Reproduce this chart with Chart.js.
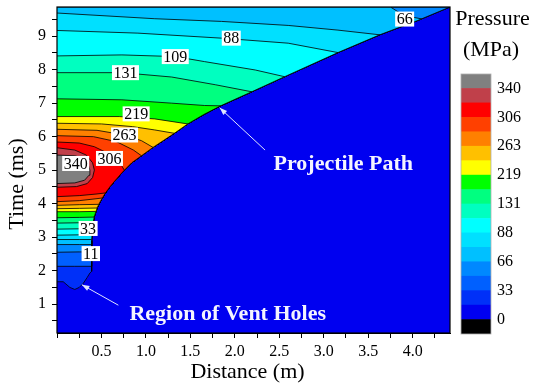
<!DOCTYPE html>
<html>
<head>
<meta charset="utf-8">
<script src="https://cdn.jsdelivr.net/npm/chart.js@4.4.1/dist/chart.umd.min.js"></script>
<style>
  body { margin: 0; background: #fff; }
  #wrap { position: relative; width: 534px; height: 389px; }
  #mainChart { position: absolute; left: 0; top: 0; }
  #barChart { position: absolute; left: 440px; top: 0; }
</style>
</head>
<body>
<div id="wrap">
  <canvas id="mainChart" width="534" height="389"></canvas>
  <canvas id="barChart" width="94" height="389"></canvas>
</div>
<script>
// axis ranges (m, ms)
const xMax = 4.42;
const tMin = 0.14;
const tTop = 9.87;

// contour levels, MPa (highest first), and the band colours from top to bottom
const levels = [340, 323, 306, 285, 263, 241, 219, 175, 131, 109, 88, 77, 66, 44, 33, 11];
const bandColors = ["#808080", "#c0404a", "#ff0000", "#ff4000", "#ff8000", "#ffc000", "#ffff00",
  "#00ff00", "#00ff80", "#00ffc0", "#00ffff", "#00e0ff", "#00c0ff", "#0088ff", "#0060ff",
  "#0030f8", "#0000f0", "#000000"];
const scaleLabels = ["0", "33", "66", "88", "131", "219", "263", "306", "340"];

// projectile path [distance, time]
const projectilePath = [
  [0.39, 1.98], [0.39, 2.90], [0.40, 3.30], [0.42, 3.62], [0.45, 3.86], [0.49, 4.08],
  [0.54, 4.30], [0.60, 4.52], [0.67, 4.74], [0.75, 4.98], [0.84, 5.22], [0.95, 5.43],
  [1.08, 5.68], [1.20, 5.89], [1.32, 6.10], [1.47, 6.38], [1.65, 6.66], [1.84, 6.92],
  [2.19, 7.34], [2.56, 7.79], [3.16, 8.51], [3.63, 9.04], [4.05, 9.46], [4.42, 9.87]
];

// upper contour of each level (left edge or top edge -> path), closed rings for the peak
const upperContours = [
  [[0, 4.60], [0.2, 4.62], [0.31, 4.70], [0.36, 4.85], [0.37, 5.00], [0.35, 5.18], [0.30, 5.35], [0.2, 5.43], [0, 5.45]],
  [[0, 4.49], [0.22, 4.51], [0.34, 4.60], [0.40, 4.78], [0.42, 5.00], [0.40, 5.22], [0.33, 5.45], [0.2, 5.60], [0, 5.67]],
  [[0, 5.84], [0.25, 5.81], [0.42, 5.70], [0.56, 5.52], [0.66, 5.32], [0.73, 5.12], [0.757, 5.00]],
  [[0, 6.03], [0.41, 6.00], [0.67, 5.85], [0.86, 5.60], [0.95, 5.43]],
  [[0, 6.22], [0.45, 6.19], [0.76, 6.05], [0.95, 5.88], [1.08, 5.68]],
  [[0, 6.40], [0.50, 6.38], [0.85, 6.30], [1.10, 6.20], [1.32, 6.10]],
  [[0, 6.60], [0.70, 6.60], [1.10, 6.53], [1.47, 6.38]],
  [[0, 7.13], [0.73, 7.10], [1.29, 7.00], [1.66, 6.93], [1.84, 6.92]],
  [[0, 7.91], [0.73, 7.91], [1.29, 7.78], [1.78, 7.55], [2.19, 7.34]],
  [[0, 8.41], [0.73, 8.44], [1.33, 8.39], [1.66, 8.24], [2.23, 7.99], [2.56, 7.79]],
  [[0, 9.17], [0.91, 9.09], [1.85, 8.94], [2.60, 8.79], [3.16, 8.51]],
  [[0, 9.69], [1.10, 9.52], [1.85, 9.44], [2.60, 9.32], [3.16, 9.18], [3.63, 9.04]],
  [[3.75, 9.87], [3.90, 9.62], [4.10, 9.515]],
  null, null, null
];

// lower contour of each level (left edge -> path)
const lowerContours = [
  null, null,
  [[0, 4.21], [0.25, 4.24], [0.45, 4.29], [0.545, 4.32]],
  [[0, 4.06], [0.25, 4.09], [0.45, 4.15], [0.51, 4.17]],
  [[0, 3.95], [0.25, 3.97], [0.47, 3.98]],
  [[0, 3.85], [0.25, 3.86], [0.45, 3.87]],
  [[0, 3.76], [0.25, 3.76], [0.44, 3.77]],
  [[0, 3.58], [0.25, 3.59], [0.42, 3.60]],
  [[0, 3.42], [0.25, 3.43], [0.405, 3.43]],
  [[0, 3.24], [0.25, 3.25], [0.398, 3.25]],
  [[0, 3.06], [0.25, 3.07], [0.394, 3.07]],
  [[0, 2.93], [0.25, 2.93], [0.39, 2.93]],
  [[0, 2.78], [0.25, 2.78], [0.39, 2.78]],
  [[0, 2.55], [0.25, 2.56], [0.39, 2.56]],
  [[0, 2.13], [0.20, 2.13], [0.39, 2.13]],
  [[0, 1.67], [0.07, 1.67], [0.145, 1.50], [0.20, 1.44], [0.25, 1.50], [0.295, 1.62], [0.34, 1.80], [0.37, 1.93], [0.39, 1.98]]
];

// contour labels
const contourLabels = ["340", "306", "263", "219", "131", "109", "88", "66", "33", "11"];
const labelX = [0.21, 0.59, 0.76, 0.89, 0.77, 1.33, 1.96, 3.91, 0.35, 0.38];
const labelT = [5.20, 5.35, 6.05, 6.68, 7.91, 8.39, 8.94, 9.51, 3.26, 2.51];

// annotations: text at [x, t baseline], arrows tail -> head
const noteText = ["Projectile Path", "Region of Vent Holes"];
const notePos = [[3.22, 5.00], [1.92, 0.54]];
const noteArrows = [[[2.34, 5.60], [1.83, 6.86]], [[0.69, 0.97], [0.28, 1.58]]];

function pathBetween(tLow, tHigh) {
  return projectilePath.filter((p) => p[1] > tLow && p[1] < tHigh).reverse();
}

function levelPolygon(i) {
  const up = upperContours[i];
  const low = lowerContours[i];
  if (!low) return up;
  let pts = [];
  let tHigh;
  if (up) {
    if (up[0][0] > 0) pts.push([0, tTop]);
    pts = pts.concat(up);
    tHigh = up[up.length - 1][1];
  } else {
    pts.push([0, tTop], [xMax, tTop]);
    tHigh = tTop;
  }
  const tLow = low[low.length - 1][1];
  return pts.concat(pathBetween(tLow, tHigh), low.slice().reverse());
}

const datasets = levels.map((lv, i) => ({
  label: String(lv),
  data: levelPolygon(i).map((p) => ({ x: p[0], y: p[1] })),
  showLine: true,
  fill: "shape",
  backgroundColor: bandColors[i],
  borderColor: "#000",
  borderWidth: 0.8,
  pointRadius: 0,
  tension: 0,
  order: i + 1,
}));

datasets.push({
  label: "base",
  data: [[0, tMin], [0, tTop], [xMax, tTop], [xMax, tMin]].map((p) => ({ x: p[0], y: p[1] })),
  showLine: true,
  fill: "shape",
  backgroundColor: bandColors[16],
  borderWidth: 0,
  pointRadius: 0,
  order: 100,
});

const overlay = {
  id: "overlay",
  afterDatasetsDraw(chart) {
    const { ctx, chartArea: a } = chart;
    const sx = chart.scales.x;
    const sy = chart.scales.y;
    ctx.save();

    // contour labels
    ctx.font = '16px "Liberation Serif"';
    ctx.textAlign = "center";
    ctx.textBaseline = "middle";
    contourLabels.forEach((txt, i) => {
      const px = sx.getPixelForValue(labelX[i]);
      const py = sy.getPixelForValue(labelT[i]);
      const w = ctx.measureText(txt).width + 3;
      ctx.fillStyle = "#fff";
      ctx.fillRect(px - w / 2, py - 7.5, w, 15);
      ctx.fillStyle = "#000";
      ctx.fillText(txt, px, py + 1);
    });

    // arrows
    ctx.strokeStyle = "#dfe6ff";
    ctx.fillStyle = "#dfe6ff";
    ctx.lineWidth = 1;
    noteArrows.forEach(([tail, head]) => {
      const x1 = sx.getPixelForValue(tail[0]);
      const y1 = sy.getPixelForValue(tail[1]);
      const x2 = sx.getPixelForValue(head[0]);
      const y2 = sy.getPixelForValue(head[1]);
      const ang = Math.atan2(y2 - y1, x2 - x1);
      ctx.beginPath();
      ctx.moveTo(x1, y1);
      ctx.lineTo(x2, y2);
      ctx.stroke();
      ctx.beginPath();
      ctx.moveTo(x2, y2);
      ctx.lineTo(x2 - 8 * Math.cos(ang - 0.35), y2 - 8 * Math.sin(ang - 0.35));
      ctx.lineTo(x2 - 8 * Math.cos(ang + 0.35), y2 - 8 * Math.sin(ang + 0.35));
      ctx.closePath();
      ctx.fill();
    });

    // annotation text
    ctx.font = 'bold 22px "Liberation Serif"';
    ctx.textBaseline = "alphabetic";
    ctx.fillStyle = "#f4f4ff";
    noteText.forEach((txt, i) => {
      ctx.fillText(txt, sx.getPixelForValue(notePos[i][0]), sy.getPixelForValue(notePos[i][1]));
    });

    // frame
    ctx.strokeStyle = "#000";
    ctx.lineWidth = 1.2;
    ctx.strokeRect(a.left, a.top, a.right - a.left, a.bottom - a.top);

    // axis titles
    ctx.fillStyle = "#000";
    ctx.font = '22px "Liberation Serif"';
    ctx.textAlign = "center";
    ctx.textBaseline = "middle";
    ctx.fillText("Distance (m)", (a.left + a.right) / 2 - 6, 372);
    ctx.translate(17, (a.top + a.bottom) / 2 + 14);
    ctx.rotate(-Math.PI / 2);
    ctx.fillText("Time (ms)", 0, 0);
    ctx.restore();
  },
};

const tickFont = { family: "Liberation Serif", size: 16 };

new Chart(document.getElementById("mainChart"), {
  type: "scatter",
  data: { datasets: datasets },
  options: {
    responsive: false,
    animation: false,
    devicePixelRatio: 1,
    layout: { padding: { top: 7, right: 84, left: 0, bottom: 0 } },
    plugins: { legend: { display: false }, tooltip: { enabled: false } },
    scales: {
      x: {
        type: "linear",
        min: 0,
        max: xMax,
        afterFit: (s) => {
          s.height = 56;
          s.paddingLeft = 0;
          s.paddingRight = 0;
        },
        grid: { drawOnChartArea: false, tickLength: 5, color: "#000" },
        border: { color: "#000" },
        ticks: {
          stepSize: 0.25,
          includeBounds: false,
          autoSkip: false,
          maxRotation: 0,
          padding: 4,
          color: "#000",
          font: tickFont,
          callback: (v) => (v > 0 && Math.abs(v * 2 - Math.round(v * 2)) < 1e-6 ? v.toFixed(1) : ""),
        },
      },
      y: {
        type: "linear",
        min: tMin,
        max: tTop,
        afterFit: (s) => {
          s.width = 57;
          s.paddingTop = 0;
          s.paddingBottom = 0;
        },
        grid: { drawOnChartArea: false, tickLength: 5, color: "#000" },
        border: { color: "#000" },
        ticks: {
          stepSize: 0.5,
          includeBounds: false,
          autoSkip: false,
          padding: 6,
          color: "#000",
          font: tickFont,
          callback: (v) => (Number.isInteger(v) ? String(v) : ""),
        },
      },
    },
  },
  plugins: [overlay],
});

// colour scale
const barDecor = {
  id: "barDecor",
  afterDatasetsDraw(chart) {
    const { ctx, chartArea: a } = chart;
    ctx.save();
    ctx.strokeStyle = "#b0b0b0";
    ctx.lineWidth = 0.8;
    ctx.strokeRect(a.left, a.top, a.right - a.left, a.bottom - a.top);
    ctx.fillStyle = "#000";
    ctx.font = '22px "Liberation Serif"';
    ctx.textAlign = "center";
    ctx.textBaseline = "middle";
    ctx.fillText("Pressure", 52.5, 19);
    ctx.fillText("(MPa)", 51, 50);
    ctx.restore();
  },
};

new Chart(document.getElementById("barChart"), {
  type: "bar",
  data: {
    labels: [""],
    datasets: bandColors.slice().reverse().map((c) => ({
      data: [1],
      backgroundColor: c,
      borderWidth: 0,
      barPercentage: 1,
      categoryPercentage: 1,
    })),
  },
  options: {
    responsive: false,
    animation: false,
    devicePixelRatio: 1,
    layout: { padding: { top: 74, right: 0, left: 21, bottom: 55 } },
    plugins: { legend: { display: false }, tooltip: { enabled: false } },
    scales: {
      x: { display: false, stacked: true },
      y: {
        position: "right",
        stacked: true,
        min: 0,
        max: 18,
        afterFit: (s) => {
          s.width = 43;
          s.paddingTop = 0;
          s.paddingBottom = 0;
        },
        grid: { display: false, drawTicks: false },
        border: { display: false },
        ticks: {
          stepSize: 1,
          autoSkip: false,
          padding: 6,
          color: "#000",
          font: tickFont,
          callback: (v) => (v % 2 === 1 ? scaleLabels[(v - 1) / 2] : ""),
        },
      },
    },
  },
  plugins: [barDecor],
});
</script>
</body>
</html>
